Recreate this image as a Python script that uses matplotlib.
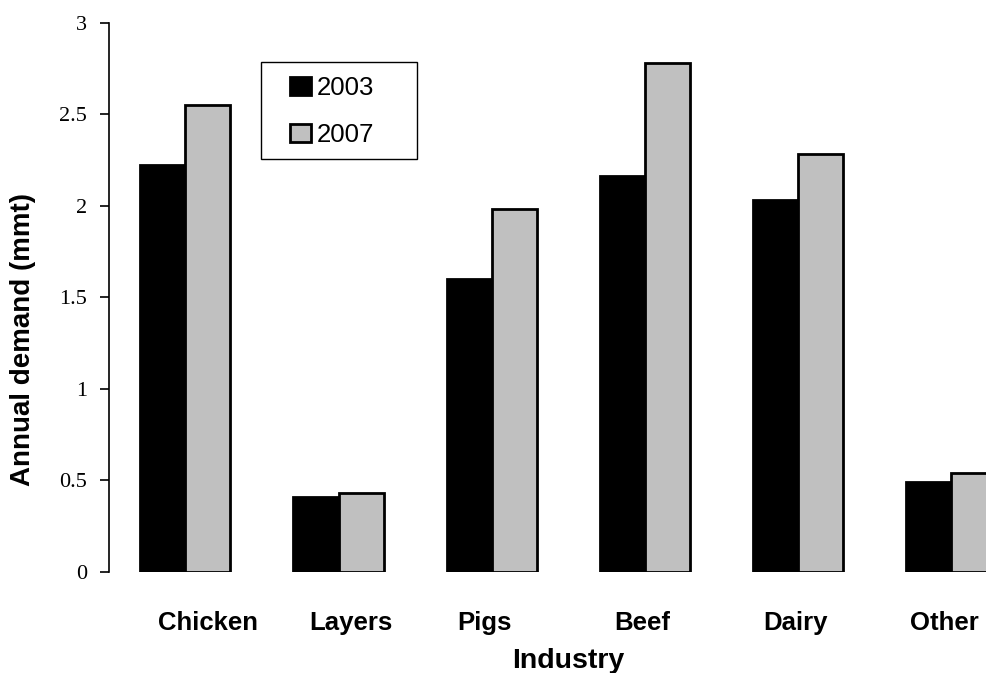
import matplotlib
matplotlib.use("Agg")
import matplotlib.pyplot as plt
import matplotlib.transforms as mtransforms
from matplotlib.patches import Rectangle
import numpy as np

industries = ["Chicken", "Layers", "Pigs", "Beef", "Dairy", "Other"]
demand_2003 = [2.22, 0.41, 1.60, 2.16, 2.03, 0.49]
demand_2007 = [2.55, 0.43, 1.98, 2.78, 2.28, 0.54]
years = ["2003", "2007"]
y_ticks = [0, 0.5, 1, 1.5, 2, 2.5, 3]
y_tick_labels = ["0", "0.5", "1", "1.5", "2", "2.5", "3"]

W, H = 986, 673
fig = plt.figure(figsize=(W / 100, H / 100), dpi=100)
ax_w_px = 6 * 153.2
ax_h_px = 571.7 - 22.7
ax = fig.add_axes([108.7 / W, (H - 571.7) / H, ax_w_px / W, ax_h_px / H])

x = np.arange(len(industries))
bw = 0.295
ax.bar(x - bw / 2, demand_2003, bw, color="black", edgecolor="black",
       linewidth=2, label=years[0], zorder=2)
ax.bar(x + bw / 2, demand_2007, bw, color="#c0c0c0", edgecolor="black",
       linewidth=2, label=years[1], zorder=2)

ax.set_xlim(-0.5, len(industries) - 0.5)
ax.set_ylim(0, 3)

for side in ("top", "right", "bottom"):
    ax.spines[side].set_visible(False)
ax.spines["left"].set_linewidth(1.2)

ax.set_yticks(y_ticks)
ax.set_yticklabels(y_tick_labels, fontfamily="Liberation Serif", fontsize=16)
ax.tick_params(axis="y", length=6.3, width=1.2, pad=9.5)

ax.set_xticks(x)
ax.set_xticklabels(industries, fontfamily="Liberation Sans", fontweight="bold", fontsize=18.5)
ax.tick_params(axis="x", length=0, pad=28)

# nudge the category labels sideways (pixel offsets)
label_shift_px = [23, 12, -7, -3, -3, -7]
for lbl, dx in zip(ax.get_xticklabels(), label_shift_px):
    lbl.set_transform(lbl.get_transform() +
                      mtransforms.ScaledTranslation(dx / 100, 0, fig.dpi_scale_trans))

ax.set_xlabel("Industry", fontfamily="Liberation Sans", fontweight="bold", fontsize=20.5, labelpad=10)
ax.set_ylabel("Annual demand (mmt)", fontfamily="Liberation Sans", fontweight="bold", fontsize=20)
ax.yaxis.set_label_coords(-(108.7 - 36) / ax_w_px, (571.7 - 340) / ax_h_px)

# legend entries without frame, boxed by a separate rectangle
leg = ax.legend(loc="center left", bbox_to_anchor=(290 / W, 1 - 111.5 / H),
                bbox_transform=fig.transFigure, borderaxespad=0, borderpad=0,
                prop={"family": "Liberation Sans", "size": 18.5},
                frameon=False, handlelength=0.82, handleheight=0.66,
                handletextpad=0.22, labelspacing=0.9)
fig.patches.append(Rectangle((261 / W, 1 - 159 / H), (417 - 261) / W, (159 - 62) / H,
                             transform=fig.transFigure, fill=False,
                             edgecolor="black", linewidth=1.0))

fig.savefig("out.png", dpi=100)
